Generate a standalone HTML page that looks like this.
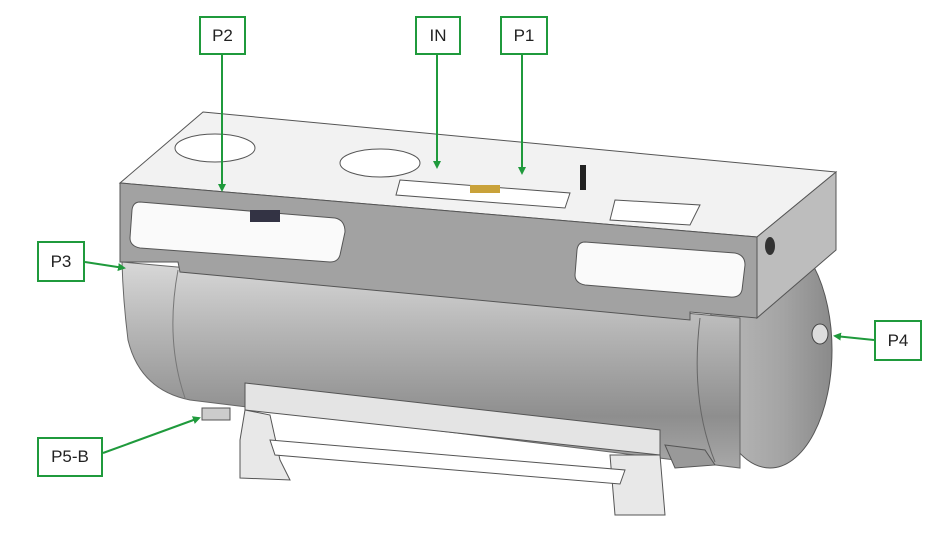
<!DOCTYPE html>
<html><head><meta charset="utf-8"><style>
html,body{margin:0;padding:0;background:#fff;width:942px;height:544px;overflow:hidden}
.lbl{position:absolute;border:2px solid #1f9a3c;background:#fff;font-family:"Liberation Sans",sans-serif;font-size:17px;color:#222;display:flex;align-items:center;justify-content:center;box-sizing:border-box}
</style></head><body>
<svg width="942" height="544" style="position:absolute;left:0;top:0">
<defs>
<linearGradient id="cyl" x1="0" y1="0" x2="0" y2="1">
<stop offset="0" stop-color="#d8d8d8"/><stop offset="0.35" stop-color="#b4b4b4"/><stop offset="0.75" stop-color="#8e8e8e"/><stop offset="1" stop-color="#a8a8a8"/></linearGradient>
<linearGradient id="cap" x1="0" y1="0" x2="1" y2="0">
<stop offset="0" stop-color="#bcbcbc"/><stop offset="0.6" stop-color="#a4a4a4"/><stop offset="1" stop-color="#8a8a8a"/></linearGradient>
<marker id="ah" markerWidth="8" markerHeight="8" refX="6" refY="4" orient="auto" markerUnits="userSpaceOnUse"><path d="M0,0 L8,4 L0,8 z" fill="#1f9a3c"/></marker>
</defs>
<ellipse cx="770" cy="350" rx="62" ry="118" fill="url(#cap)" stroke="#555" stroke-width="1"/>
<path d="M122,262 L740,318 L740,468 L190,400 Q140,390 128,340 Q123,300 122,262 Z" fill="url(#cyl)" stroke="#666"/>
<path d="M178,270 Q165,340 185,398" fill="none" stroke="#777"/>
<path d="M700,318 Q690,400 715,462" fill="none" stroke="#666"/>
<ellipse cx="820" cy="334" rx="8" ry="10" fill="#ddd" stroke="#444"/>
<!-- stand -->
<path d="M245,383 L660,430 L660,455 L245,410 Z" fill="#e4e4e4" stroke="#555"/>
<path d="M245,410 L270,415 L280,460 L290,480 L240,478 L240,440 Z" fill="#e8e8e8" stroke="#555"/>
<path d="M610,455 L660,455 L665,515 L615,515 Z" fill="#e8e8e8" stroke="#555"/>
<path d="M270,440 L625,470 L620,484 L275,455Z" fill="#fff" stroke="#555"/>
<path d="M665,445 L705,450 L715,465 L675,468Z" fill="#999" stroke="#555"/>
<!-- top plate -->
<path d="M203,112 L836,172 L757,237 L120,183 Z" fill="#f2f2f2" stroke="#555"/>
<path d="M120,183 L757,237 L757,318 L690,312 L690,320 L180,272 L178,262 L120,262 Z" fill="#a2a2a2" stroke="#555"/>
<path d="M757,237 L836,172 L836,250 L757,318 Z" fill="#bdbdbd" stroke="#555"/>
<path d="M140,202 L335,218 Q345,220 345,232 L340,255 Q338,262 330,262 L140,248 Q130,246 130,238 L132,210 Q133,202 140,202Z" fill="#fafafa" stroke="#555"/>
<path d="M585,242 L735,253 Q745,255 745,265 L742,290 Q740,298 730,297 L585,285 Q575,283 575,275 L577,250 Q578,242 585,242Z" fill="#fafafa" stroke="#555"/>
<ellipse cx="770" cy="246" rx="5" ry="9" fill="#333"/>
<ellipse cx="215" cy="148" rx="40" ry="14" fill="#fff" stroke="#555"/>
<ellipse cx="380" cy="163" rx="40" ry="14" fill="#fff" stroke="#555"/>
<path d="M400,180 L570,193 L565,208 L396,195Z" fill="#fff" stroke="#555"/>
<path d="M615,200 L700,205 L690,225 L610,220Z" fill="#fff" stroke="#555"/>
<rect x="470" y="185" width="30" height="8" fill="#c9a23a"/>
<rect x="580" y="165" width="6" height="25" fill="#222"/>
<rect x="250" y="210" width="30" height="12" fill="#334"/>
<rect x="202" y="408" width="28" height="12" fill="#ccc" stroke="#555"/>
<g stroke="#1f9a3c" stroke-width="2" fill="none" marker-end="url(#ah)">
<line x1="222" y1="55" x2="222" y2="190"/>
<line x1="437" y1="55" x2="437" y2="167"/>
<line x1="522" y1="55" x2="522" y2="173"/>
<line x1="85" y1="262" x2="124" y2="268"/>
<line x1="874" y1="340" x2="835" y2="336"/>
<line x1="103" y1="453" x2="199" y2="418"/>
</g>
</svg>
<div class="lbl" style="left:199px;top:16px;width:47px;height:39px">P2</div>
<div class="lbl" style="left:415px;top:16px;width:46px;height:39px">IN</div>
<div class="lbl" style="left:500px;top:16px;width:48px;height:39px">P1</div>
<div class="lbl" style="left:37px;top:241px;width:48px;height:41px">P3</div>
<div class="lbl" style="left:874px;top:320px;width:48px;height:41px">P4</div>
<div class="lbl" style="left:37px;top:437px;width:66px;height:40px">P5-B</div>
</body></html>
